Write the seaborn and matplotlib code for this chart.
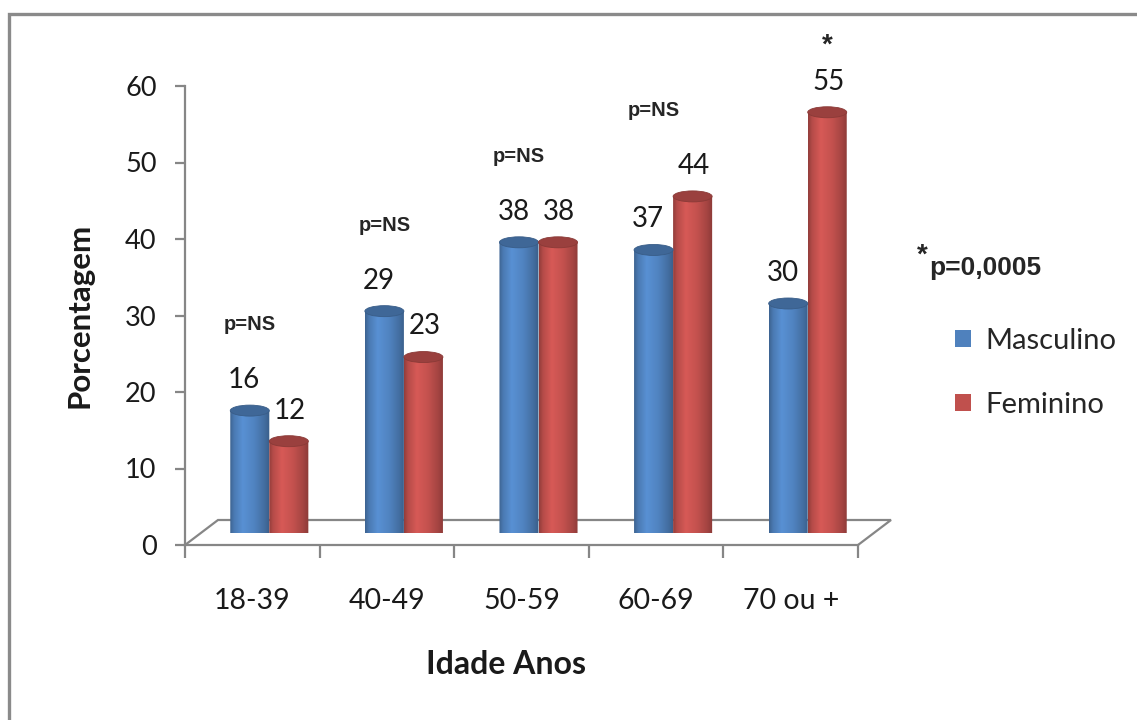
import numpy as np
import pandas as pd
import matplotlib
matplotlib.use("Agg")
import matplotlib.pyplot as plt
from matplotlib.patches import Ellipse, PathPatch, Patch
from matplotlib.path import Path
from matplotlib.lines import Line2D
import seaborn as sns

# ---- data -------------------------------------------------------------
categories = ["18-39", "40-49", "50-59", "60-69", "70 ou +"]
series = ["Masculino", "Feminino"]
masculino = [16, 29, 38, 37, 30]
feminino = [12, 23, 38, 44, 55]
p_labels = ["p=NS", "p=NS", "p=NS", "p=NS", "*"]

df = pd.DataFrame({
    "Idade": categories * 2,
    "Sexo": [series[0]] * len(categories) + [series[1]] * len(categories),
    "Porcentagem": masculino + feminino,
})

# ---- style ------------------------------------------------------------
sns.set_theme(style="white")
plt.rcParams["font.family"] = ["Lato", "DejaVu Sans"]
BLUE = "#4F81BD"
RED = "#C0504D"
GRAY = "#868686"
palette = {series[0]: BLUE, series[1]: RED}

W, H, DPI = 1137, 720, 100
fig = plt.figure(figsize=(W / DPI, H / DPI), dpi=DPI)
fig.patch.set_facecolor("white")

# front plane of the chart (axis, ticks, floor)
ax_left, ax_bottom, ax_w, ax_h = 185, 545, 673, 459
ax = fig.add_axes([ax_left / W, (H - ax_bottom) / H, ax_w / W, ax_h / H])
ax.set_facecolor("none")
ax.set_xlim(-0.5, len(categories) - 0.5)
ax.set_ylim(0, 60)
ax.set_yticks(range(0, 61, 10))
ax.set_xticks(np.arange(-0.5, len(categories), 1.0))
ax.set_xticklabels([])
ax.set_xticks(range(len(categories)), minor=True)
ax.set_xticklabels(categories, minor=True)
for s in ["top", "right"]:
    ax.spines[s].set_visible(False)
for s in ["left", "bottom"]:
    ax.spines[s].set_color(GRAY)
    ax.spines[s].set_linewidth(1.6)
ax.tick_params(axis="y", which="major", direction="out", length=7.5, width=1.6,
               color=GRAY, labelsize=19.5, pad=13, labelcolor="#1a1a1a", left=True)
ax.tick_params(axis="x", which="major", direction="out", length=9, width=1.6,
               color=GRAY, bottom=True)
ax.tick_params(axis="x", which="minor", length=0, labelsize=20.5, pad=31,
               labelcolor="#1a1a1a")

# perspective floor
depth_x = 33 / (ax_w / len(categories))
depth_y = 25 / (ax_h / 60)
x0, x1 = -0.5, len(categories) - 0.5
ax.plot([x0, x0 + depth_x, x1 + depth_x, x1], [0, depth_y, depth_y, 0],
        color=GRAY, lw=1.6, clip_on=False, solid_joinstyle="miter")

ax.set_xlabel("Idade Anos", fontsize=23, fontweight="bold", color="#1a1a1a")
ax.xaxis.set_label_coords((506 - ax_left) / ax_w, (ax_bottom - 665) / ax_h)
ax.xaxis.label.set_va("center")
ax.set_ylabel("Porcentagem", fontsize=22.5, fontweight="bold", color="#1a1a1a")
ax.yaxis.set_label_coords((80 - ax_left) / ax_w, (ax_bottom - 315) / ax_h)
ax.yaxis.label.set_va("center")

# bars sit half-way into the floor depth
shift_x, base_y = 17, 533
bx = fig.add_axes([(ax_left + shift_x) / W, (H - base_y) / H, ax_w / W, ax_h / H])
sns.barplot(data=df, x="Idade", y="Porcentagem", hue="Sexo", order=categories,
            hue_order=series, palette=palette, width=0.58, gap=0, dodge=True,
            saturation=1, legend=False, ax=bx)
bx.set_xlim(-0.5, len(categories) - 0.5)
bx.set_ylim(0, 60)
bx.axis("off")
bx.set_facecolor("none")

# cylinder shading across a bar
stops_t = [0.0, 0.10, 0.32, 0.60, 0.85, 1.0]
stops_f = [0.76, 0.94, 1.12, 1.02, 0.86, 0.72]
tt = np.linspace(0, 1, 200)
shade = np.interp(tt, stops_t, stops_f)

ell_h = 5.5 / (ax_h / 60)  # half-height of the end caps, in data units
bars = [p for p in bx.patches if p.get_height() > 0]
for p in bars:
    x, w, h = p.get_x(), p.get_width(), p.get_height()
    rgb = np.array(matplotlib.colors.to_rgb(p.get_facecolor()))
    img = np.clip(shade[:, None] * rgb[None, :], 0, 1)[None, :, :]
    th = np.linspace(np.pi, 2 * np.pi, 60)
    verts = [(x, h), (x, 0)]
    verts += [(x + w / 2 + w / 2 * np.cos(a), ell_h * np.sin(a)) for a in th]
    verts += [(x + w, h), (x, h)]
    codes = [Path.MOVETO] + [Path.LINETO] * (len(verts) - 2) + [Path.CLOSEPOLY]
    clip = PathPatch(Path(verts, codes), transform=bx.transData,
                     facecolor="none", edgecolor="none")
    bx.add_patch(clip)
    im = bx.imshow(img, extent=(x, x + w, -ell_h, h), aspect="auto",
                   interpolation="bilinear", zorder=2)
    im.set_clip_path(clip)
    top = Ellipse((x + w / 2, h), w, 2 * ell_h, facecolor=rgb * 0.80,
                  edgecolor=rgb * 0.72, lw=0.6, zorder=3)
    bx.add_patch(top)
    p.set_visible(False)
bx.set_xlim(-0.5, len(categories) - 0.5)
bx.set_ylim(0, 60)

# value labels
n = len(categories)
for j, p in enumerate(bars):
    h = p.get_height()
    cx = p.get_x() + p.get_width() / 2
    dx = -4 if j < n else 1
    bx.annotate(f"{h:.0f}", (cx, h), xytext=(dx, 22), textcoords="offset points",
                ha="center", va="center", fontsize=20, color="#1a1a1a",
                annotation_clip=False)

# significance notes above each age group
for i, lab in enumerate(p_labels):
    top_val = max(masculino[i], feminino[i])
    if lab == "*":
        cx = bars[n + i].get_x() + bars[n + i].get_width() / 2
        bx.annotate(lab, (cx, top_val), xytext=(0, 48), textcoords="offset points",
                    ha="center", va="center", fontsize=20, fontweight="bold",
                    family="Liberation Sans", annotation_clip=False)
    else:
        bx.annotate(lab, (i, top_val), xytext=(-14, 62), textcoords="offset points",
                    ha="center", va="center", fontsize=14.5, fontweight="bold",
                    family="Liberation Sans", annotation_clip=False)

fig.text(922 / W, 1 - 256 / H, "*", fontsize=20, fontweight="bold",
         family="Liberation Sans", ha="center", va="center")
fig.text(929 / W, 1 - 268 / H, "p=0,0005", fontsize=19, fontweight="bold",
         family="Liberation Sans", ha="left", va="center")

# legend
handles = [Patch(facecolor=palette[s], edgecolor="none") for s in series]
fig.legend(handles, series, loc="upper left", bbox_to_anchor=(955 / W, 1 - 328 / H),
           frameon=False, fontsize=21, handlelength=0.55, handleheight=0.55,
           handletextpad=0.5, labelspacing=1.3, borderpad=0, borderaxespad=0)

# outer frame
fig.add_artist(Line2D([9 / W, 9 / W, 1.0], [0.0, 1 - 14 / H, 1 - 14 / H],
                      transform=fig.transFigure, color="#8a8a8a", lw=2.4,
                      solid_joinstyle="miter"))

fig.savefig("out.png", dpi=DPI, facecolor="white")
